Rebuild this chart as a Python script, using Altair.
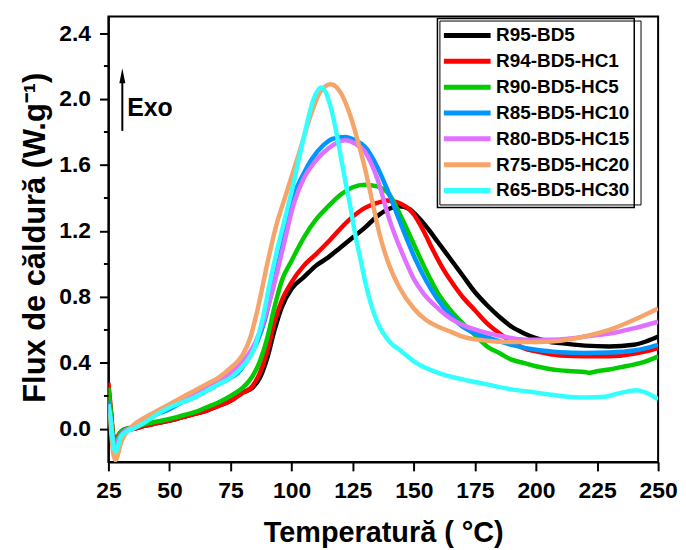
import altair as alt
import pandas as pd

SERIES = ["R95-BD5", "R94-BD5-HC1", "R90-BD5-HC5", "R85-BD5-HC10",
          "R80-BD5-HC15", "R75-BD5-HC20", "R65-BD5-HC30"]
COLORS = ["#000000", "#FF0000", "#00CC00", "#0096FF", "#E070FF", "#F5A56A", "#33FFFF"]

BLACK_T = [25, 26, 27, 28, 29, 30, 32, 35, 40, 45, 50, 55, 60, 65, 70, 75, 80, 84, 87, 90, 93, 96,
           100, 105, 110, 115, 120, 125, 130, 135, 140, 144, 148, 152, 156, 160, 165, 170, 175, 180,
           185, 190, 195, 200, 205, 210, 220, 230, 240, 245, 250]
BLACK_V = [0.22, 0.10, -0.05, -0.08, -0.05, -0.02, -0.01, 0.00, 0.02, 0.035, 0.05, 0.07, 0.09, 0.11,
           0.14, 0.17, 0.22, 0.25, 0.31, 0.43, 0.60, 0.74, 0.85, 0.92, 0.99, 1.04, 1.10, 1.16, 1.22,
           1.29, 1.335, 1.35, 1.335, 1.28, 1.21, 1.13, 1.03, 0.93, 0.83, 0.75, 0.68, 0.62, 0.58,
           0.55, 0.53, 0.52, 0.505, 0.50, 0.51, 0.53, 0.56]

RED_T = [25, 26, 27, 28, 29, 30, 32, 35, 40, 45, 50, 55, 60, 65, 70, 75, 80, 84, 87, 90, 93, 96,
         100, 105, 110, 116, 123, 130, 135, 139, 143, 147, 150, 154, 158, 162, 166, 170, 175, 180,
         185, 190, 195, 200, 205, 210, 220, 230, 240, 245, 250]
RED_V = [0.28, 0.12, -0.04, -0.07, -0.04, -0.02, 0.00, 0.00, 0.02, 0.035, 0.05, 0.07, 0.09, 0.11,
         0.14, 0.17, 0.22, 0.26, 0.34, 0.47, 0.65, 0.78, 0.89, 0.99, 1.06, 1.15, 1.26, 1.34, 1.37,
         1.385, 1.375, 1.345, 1.30, 1.20, 1.08, 0.97, 0.88, 0.80, 0.72, 0.64, 0.58, 0.53, 0.49,
         0.47, 0.455, 0.445, 0.44, 0.44, 0.455, 0.47, 0.49]

GREEN_T = [25, 26, 27, 28, 29, 30, 32, 35, 40, 45, 50, 55, 60, 65, 70, 75, 80, 84, 87, 90, 93, 96,
           100, 105, 110, 115, 120, 125, 130, 135, 140, 145, 150, 155, 160, 165, 170, 175, 180,
           185, 190, 195, 200, 205, 210, 215, 220, 222, 225, 230, 235, 240, 245, 250]
GREEN_V = [0.25, 0.10, -0.05, -0.08, -0.05, -0.02, 0.00, 0.01, 0.03, 0.045, 0.06, 0.08, 0.10, 0.13,
           0.16, 0.20, 0.25, 0.32, 0.41, 0.55, 0.74, 0.90, 1.02, 1.16, 1.27, 1.35, 1.42, 1.465,
           1.48, 1.47, 1.42, 1.28, 1.12, 0.96, 0.82, 0.72, 0.64, 0.57, 0.50, 0.46, 0.42, 0.40,
           0.38, 0.365, 0.355, 0.35, 0.345, 0.34, 0.35, 0.36, 0.375, 0.39, 0.41, 0.44]

BLUE_T = [25, 26, 27, 28, 29, 30, 32, 35, 40, 45, 50, 55, 60, 65, 70, 75, 78, 82, 86, 89, 92, 96,
          98, 101, 105, 108, 113, 117, 122, 126, 130, 135, 140, 145, 150, 155, 160, 165, 170, 175,
          180, 190, 200, 210, 220, 230, 240, 245, 250]
BLUE_V = [0.17, 0.05, -0.08, -0.11, -0.07, -0.04, -0.01, 0.01, 0.05, 0.09, 0.12, 0.16, 0.19, 0.23,
          0.27, 0.31, 0.34, 0.42, 0.53, 0.66, 0.84, 1.10, 1.24, 1.42, 1.55, 1.63, 1.72, 1.76,
          1.77, 1.75, 1.71, 1.59, 1.42, 1.23, 1.05, 0.90, 0.78, 0.69, 0.62, 0.58, 0.555, 0.51,
          0.48, 0.465, 0.46, 0.463, 0.475, 0.49, 0.51]

VIOLET_T = [25, 26, 27, 28, 29, 30, 32, 35, 40, 45, 50, 55, 60, 65, 70, 75, 80, 85, 88, 92, 96.5,
            101, 105, 108, 115, 122, 126, 130, 135, 140, 146, 150, 154, 160, 165, 170, 178, 185,
            192, 200, 206, 215, 220, 233, 240, 250]
VIOLET_V = [0.14, 0.04, -0.08, -0.11, -0.07, -0.04, -0.01, 0.01, 0.06, 0.10, 0.135, 0.17, 0.21,
            0.25, 0.29, 0.34, 0.41, 0.52, 0.63, 0.83, 1.10, 1.37, 1.52, 1.59, 1.70, 1.75, 1.73,
            1.68, 1.52, 1.27, 1.04, 0.91, 0.82, 0.73, 0.67, 0.63, 0.59, 0.565, 0.546, 0.54, 0.54,
            0.55, 0.56, 0.586, 0.61, 0.65]

ORANGE_T = [25, 26, 27, 28, 29, 30, 32, 35, 40, 45, 50, 55, 60, 65, 70, 75, 80, 83, 86, 90, 94,
            97, 103, 108, 112, 116, 120, 124, 127, 130, 133, 136, 140, 144, 150, 155, 160, 165,
            170, 180, 190, 200, 210, 220, 230, 240, 250]
ORANGE_V = [0.10, 0.00, -0.15, -0.19, -0.15, -0.09, -0.03, 0.02, 0.07, 0.11, 0.15, 0.19, 0.23,
            0.27, 0.31, 0.37, 0.45, 0.55, 0.72, 1.00, 1.25, 1.39, 1.67, 1.91, 2.05, 2.09, 2.04,
            1.90, 1.75, 1.58, 1.38, 1.18, 0.99, 0.86, 0.73, 0.66, 0.62, 0.59, 0.56, 0.535, 0.527,
            0.527, 0.535, 0.56, 0.60, 0.66, 0.73]

CYAN_T = [25, 26, 27, 28, 29, 30, 32, 35, 40, 45, 50, 55, 60, 65, 70, 75, 80, 85, 88, 91, 94, 97,
          100, 105, 109, 112, 114, 116, 118, 120, 122, 124, 126, 128, 130, 132, 135, 140, 145,
          150, 160, 170, 180, 190, 200, 210, 220, 228, 235, 241, 245, 250]
CYAN_V = [0.15, 0.05, -0.10, -0.14, -0.10, -0.05, -0.02, 0.00, 0.04, 0.09, 0.13, 0.16, 0.19, 0.23,
          0.27, 0.31, 0.38, 0.50, 0.66, 0.88, 1.08, 1.26, 1.44, 1.77, 2.00, 2.07, 2.04, 1.95,
          1.82, 1.66, 1.50, 1.35, 1.18, 1.04, 0.90, 0.78, 0.65, 0.53, 0.47, 0.41, 0.34, 0.30,
          0.27, 0.24, 0.22, 0.20, 0.19, 0.195, 0.22, 0.235, 0.22, 0.18]

X_TICKS = [25, 37.5, 50, 62.5, 75, 87.5, 100, 112.5, 125, 137.5, 150, 162.5, 175, 187.5,
           200, 212.5, 225, 237.5, 250]
Y_MAJOR_TICKS = [0.0, 0.4, 0.8, 1.2, 1.6, 2.0, 2.4]
Y_MINOR_TICKS = [0.2, 0.6, 1.0, 1.4, 1.8, 2.2]

ARROW_T = [30.7]
ARROW_FROM = [1.807]
ARROW_TO = [2.11]
ARROW_HEAD = [2.1416]
EXO_T = [32.7]
EXO_Y = [1.90]
EXO_TEXT = ["Exo"]

FONT = "Liberation Sans"

all_t = [BLACK_T, RED_T, GREEN_T, BLUE_T, VIOLET_T, ORANGE_T, CYAN_T]
all_v = [BLACK_V, RED_V, GREEN_V, BLUE_V, VIOLET_V, ORANGE_V, CYAN_V]
rows = []
for name, ts, vs in zip(SERIES, all_t, all_v):
    for t, v in zip(ts, vs):
        rows.append({"series": name, "T": t, "flux": v})
df = pd.DataFrame(rows)

x_scale = alt.Scale(domain=[25, 250], nice=False, zero=False)
y_scale = alt.Scale(domain=[-0.2, 2.5], nice=False, zero=False)

X_MAJOR = "datum.value % 25 == 0"

x_axis = alt.Axis(
    values=X_TICKS,
    labelExpr=X_MAJOR + " ? format(datum.value, 'd') : ''",
    tickSize={"condition": {"test": X_MAJOR, "value": 9}, "value": 4.5},
    title="Temperatură ( °C)", titleFontSize=29,
    titleY=80, titleBaseline="alphabetic",
    labelPadding=9, labelFlush=False, labelOverlap=False,
)
y_axis = alt.Axis(
    values=Y_MAJOR_TICKS, format=".1f", tickSize=9,
    title="Flux de căldură (W.g⁻¹)", titleFontSize=31,
    titleX=-64, titleY=222, titleBaseline="alphabetic", titleAlign="center",
    labelPadding=9, labelFlush=False, labelOverlap=False,
)

lines = alt.Chart(df).mark_line(interpolate="monotone", strokeWidth=4.5, clip=True).encode(
    x=alt.X("T:Q", scale=x_scale, axis=x_axis),
    y=alt.Y("flux:Q", scale=y_scale, axis=y_axis),
    color=alt.Color(
        "series:N",
        scale=alt.Scale(domain=SERIES, range=COLORS),
        legend=alt.Legend(
            title=None, orient="none", legendX=331, legendY=2,
            symbolType="stroke", symbolSize=2209, symbolStrokeWidth=5,
            labelFont=FONT, labelFontWeight="bold", labelFontSize=19, labelColor="black",
            padding=4, clipHeight=26, rowPadding=0, labelOffset=3,
        ),
    ),
)

minor_df = pd.DataFrame({"flux": Y_MINOR_TICKS})
y_minor = alt.Chart(minor_df).mark_rule(color="black", strokeWidth=2).encode(
    y="flux:Q", x=alt.value(-4.5), x2=alt.value(0)
)

arrow_df = pd.DataFrame({"T": ARROW_T, "flux": ARROW_FROM, "flux2": ARROW_TO})
arrow = alt.Chart(arrow_df).mark_rule(color="black", strokeWidth=2).encode(
    x="T:Q", y="flux:Q", y2="flux2:Q"
)
head_df = pd.DataFrame({"T": ARROW_T, "flux": ARROW_HEAD})
head = alt.Chart(head_df).mark_point(
    shape="M0,-1L0.4,1L-0.4,1Z", filled=True, size=225, color="black", opacity=1
).encode(x="T:Q", y="flux:Q")
exo_df = pd.DataFrame({"T": EXO_T, "flux": EXO_Y, "label": EXO_TEXT})
exo = alt.Chart(exo_df).mark_text(
    align="left", baseline="alphabetic", font=FONT, fontWeight="bold", fontSize=25, color="black"
).encode(x="T:Q", y="flux:Q", text="label:N")

# inner line of the legend's double border
frame_df = pd.DataFrame({"k": [0]})
inner = alt.Chart(frame_df).mark_rect(fillOpacity=0, stroke="black", strokeWidth=1).encode(
    x=alt.value(333.5), x2=alt.value(535.8), y=alt.value(4.5), y2=alt.value(189.5)
)

chart = alt.layer(lines, y_minor, arrow, head, exo, inner).properties(
    width=553, height=448,
    autosize=alt.AutoSizeParams(type="none"),
    padding={"left": 101, "top": 7, "right": 20, "bottom": 87},
).configure_view(
    stroke="black", strokeWidth=2
).configure_axis(
    grid=False, domainColor="black", domainWidth=2, tickColor="black", tickWidth=2,
    labelFont=FONT, labelFontWeight="bold", labelFontSize=23, labelColor="black",
    titleFont=FONT, titleFontWeight="bold", titleColor="black",
).configure_legend(
    strokeColor="black", strokeWidth=1.5
)

chart.save("out.html", embed_options={"renderer": "svg", "actions": False})
